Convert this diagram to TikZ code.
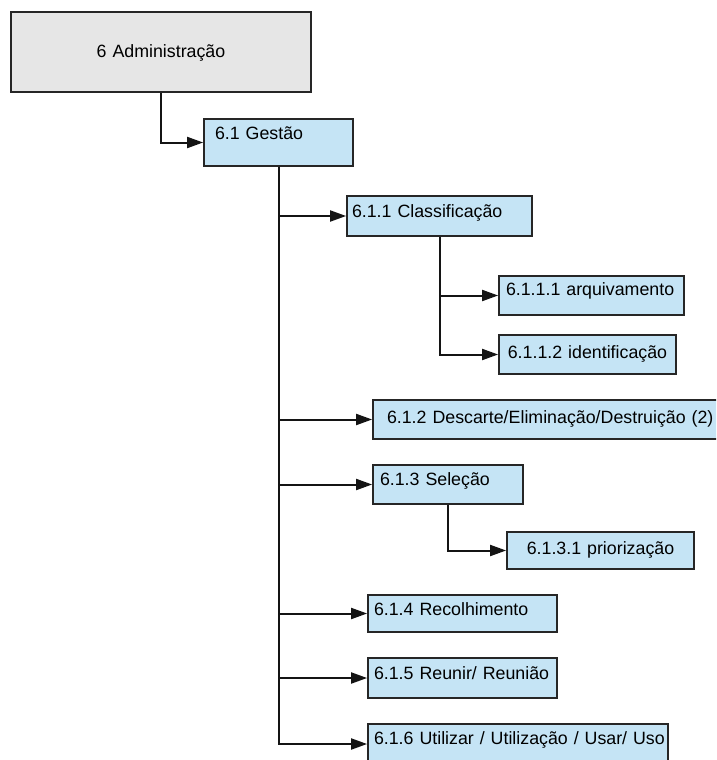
\documentclass[tikz,border=0pt]{standalone}
\usepackage{fontspec}
\setmainfont{Liberation Sans}
\usetikzlibrary{arrows.meta}
\definecolor{boxblue}{RGB}{197,228,245}
\definecolor{boxgray}{RGB}{230,230,230}
\definecolor{boxline}{RGB}{38,38,38}
\tikzset{
  gbox/.style ={rectangle, draw=boxline, fill=boxblue, line width=1.8pt,
                inner xsep=0pt, inner ysep=0pt, text height=13pt, align=left,
                font=\fontsize{17.8}{21}\selectfont},
  groot/.style={gbox, fill=boxgray, align=center},
  gmid/.style ={gbox, align=center},
  gconn/.style={-{Triangle[length=16pt, width=11pt]}, line width=2pt, black!92},
}
\begin{document}
\begin{tikzpicture}[x=1pt, y=-1pt]
  \useasboundingbox (0,0) rectangle (716,760);
  \clip (0,0) rectangle (716,760);
  \fill[white] (0,0) rectangle (716,760);
  % root and first level
  \node[groot, minimum width=300, minimum height=80, text width=300, text depth=2pt]
    (adm) at (161,52) {6 Administração};
  \node[gbox, minimum width=149, minimum height=47, text width=127, text depth=19pt]
    (gestao) at (278.5,142.5) {6.1 Gestão};
  % children of 6.1
  \node[gbox, minimum width=185, minimum height=40, text width=175, text depth=10pt]
    (classif) at (439.5,216) {6.1.1 Classificação};
  \node[gbox, minimum width=368, minimum height=39, text width=340, text depth=5pt]
    (descarte) at (557,419.5) {6.1.2 Descarte/Eliminação/Destruição (2)};
  \node[gbox, minimum width=150, minimum height=39, text width=136, text depth=11pt]
    (selecao) at (448,484.5) {6.1.3 Seleção};
  \node[gbox, minimum width=189, minimum height=37, text width=177, text depth=9pt]
    (recol) at (462.5,613.5) {6.1.4 Recolhimento};
  \node[gbox, minimum width=189, minimum height=40, text width=177, text depth=10pt]
    (reunir) at (462.5,678) {6.1.5 Reunir/ Reunião};
  \node[gbox, minimum width=300, minimum height=40, text width=288, text depth=12pt]
    (utilizar) at (518,744) {\mbox{6.1.6 Utilizar / Utilização / Usar/ Uso}};
  % third level
  \node[gbox, minimum width=185, minimum height=39, text width=171, text depth=13pt]
    (arq) at (591.5,295.5) {6.1.1.1 arquivamento};
  \node[gmid, minimum width=177, minimum height=39, text width=177, text depth=5pt]
    (ident) at (587.5,354.5) {6.1.1.2 identificação};
  \node[gmid, minimum width=187, minimum height=37, text width=187, text depth=5pt]
    (prior) at (600.5,550.5) {6.1.3.1 priorização};
  % connectors
  \draw[gconn] (adm.south) |- (gestao.west);
  \foreach \n in {classif, descarte, selecao, recol, reunir, utilizar}
    \draw[gconn] (gestao.south) |- (\n.west);
  \foreach \n in {arq, ident}
    \draw[gconn] (classif.south) |- (\n.west);
  \draw[gconn] (selecao.south) |- (prior.west);
\end{tikzpicture}
\end{document}
